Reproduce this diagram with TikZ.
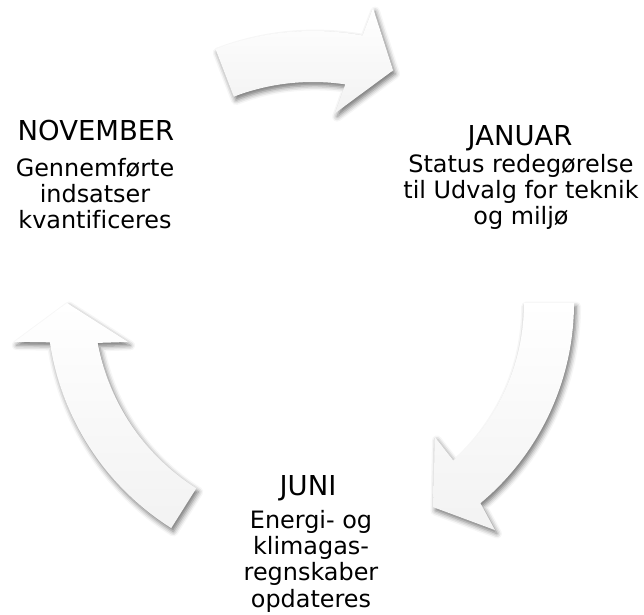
\documentclass[tikz,border=0pt]{standalone}
\usepackage{fontspec}
\setmainfont{DejaVu Sans}[Ligatures=NoCommon]
\usetikzlibrary{shadows.blur}

\begin{document}
\begin{tikzpicture}[x=0.025cm,y=0.025cm,
  cycle arrow/.style={top color=white,bottom color=gray!10,draw=none,
    blur shadow={shadow xshift=1.5pt,shadow yshift=-2.5pt,shadow blur radius=3.5pt,shadow opacity=55}},
  month/.style={anchor=base,font=\fontsize{19.5}{22}\selectfont},
  task/.style={anchor=base,align=center,font=\fontsize{17}{18.5}\selectfont}]

\useasboundingbox (0,0) rectangle (644,-615);

% arrows round the centre of the cycle
\begin{scope}[shift={(313,-303)}]
\path[cycle arrow] (111:272) arc[start angle=111,end angle=79.5,radius=272] -- (78.5:301) -- (71:246) -- (83.4:191) -- (81.6:221) arc[start angle=81.6,end angle=111,radius=221] -- cycle;

\path[cycle arrow] (0:261) arc[start angle=0,end angle=-50.1,radius=261] -- (-51.3:291) -- (-59.5:237) -- (-47.7:181) -- (-48.3:211) arc[start angle=-48.3,end angle=0,radius=211] -- cycle;

\path[cycle arrow] (237.8:266) arc[start angle=237.8,end angle=188.5,radius=266] -- (187.4:301) -- (180:246) -- (191.9:189) -- (190.5:219) arc[start angle=190.5,end angle=237.8,radius=219] -- cycle;
\end{scope}

% November
\node[month] (nov) at (96,-141) {NOVEMBER};
\node[task] (novtask) at (95,-229) {Gennemførte\\indsatser\\kvantificeres};

% Januar
\node[month] (jan) at (520,-146) {JANUAR};
\node[task] (jantask) at (521,-225) {Status redegørelse\\til Udvalg for teknik\\og miljø};

% Juni
\node[month] (jun) at (308,-495) {JUNI};
\node[task] (juntask) at (311,-607) {Energi- og\\klimagas-\\regnskaber\\opdateres};

\end{tikzpicture}
\end{document}
